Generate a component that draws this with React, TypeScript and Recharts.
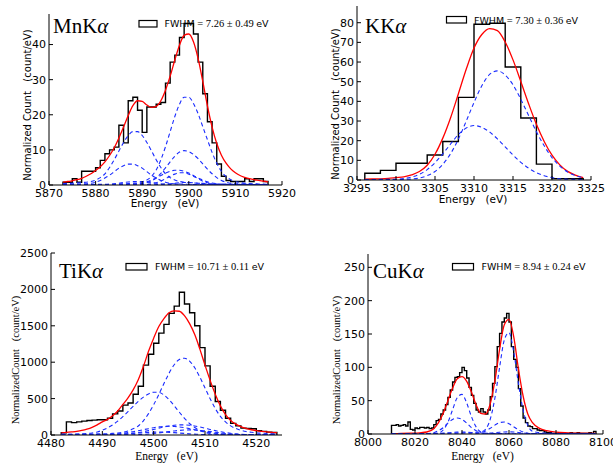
import { ComposedChart, Line, XAxis, YAxis } from 'recharts'

type Pt = { x: number; y: number }

function span(a: number, b: number, step: number): number[] {
  const out: number[] = []
  for (let v = a; v <= b + 1e-9; v += step) out.push(v)
  return out
}

// ---------- Mn Kα ----------
const mnGrid = span(5873, 5917, 1)
const mnHist = [0.8, 0.8, 1.8, 0.8, 3.9, 3.9, 3.9, 4.9, 7, 8.9,
  10, 10.8, 17, 12, 24, 25, 21.3, 15, 22.2, 22.2,
  23, 23.5, 29, 35, 37, 42, 46, 46, 43, 35,
  26, 18, 12, 6, 2.5, 1.3, 1, 1, 1, 1.8,
  1, 1.8, 1.8, 1]
const mnFit = [0.8, 1.0, 1.2, 1.5, 1.9, 2.5, 3.2, 4.1, 5.2, 6.6,
  8.4, 10.6, 13.4, 16.5, 19.8, 22.6, 24.0, 23.8, 22.8, 22.1,
  22.4, 24.0, 27.0, 31.0, 35.6, 39.8, 42.6, 43.0, 40.8, 36.0,
  29.5, 22.5, 16.5, 11.8, 8.5, 6.2, 4.6, 3.5, 2.7, 2.2,
  1.8, 1.5, 1.3, 1.1, 0.9]
const mnK1 = [0.1, 0.1, 0.1, 0.1, 0.1, 0.1, 0.15, 0.15, 0.2, 0.2,
  0.2, 0.25, 0.3, 0.35, 0.4, 0.5, 0.6, 0.9, 1.4, 2.5,
  4.3, 7.2, 10.9, 15.2, 19.5, 23.0, 25.0, 25.0, 23.2, 20.3,
  16.6, 12.9, 9.3, 6.2, 3.9, 2.4, 1.5, 1.0, 0.7, 0.5,
  0.4, 0.35, 0.3, 0.25, 0.2]
const mnK2 = [0.4, 0.45, 0.5, 0.6, 0.7, 0.8, 1.0, 1.4, 2.1, 3.2,
  5.0, 7.2, 9.7, 12.1, 14.1, 15.2, 15.2, 14.1, 12.1, 9.7,
  7.2, 5.0, 3.2, 2.1, 1.4, 1.0, 0.8, 0.7, 0.6, 0.5,
  0.45, 0.4, 0.35, 0.3, 0.3, 0.25, 0.25, 0.2, 0.2, 0.2,
  0.15, 0.15, 0.15, 0.1, 0.1]
const mnK3 = [0.1, 0.1, 0.1, 0.1, 0.1, 0.1, 0.1, 0.1, 0.1, 0.1,
  0.1, 0.1, 0.1, 0.1, 0.2, 0.25, 0.35, 0.45, 0.7, 1.2,
  2.0, 3.3, 4.9, 6.6, 8.2, 9.4, 9.8, 9.5, 8.7, 7.5,
  6.0, 4.5, 3.2, 2.1, 1.3, 0.8, 0.5, 0.35, 0.3, 0.25,
  0.2, 0.2, 0.15, 0.15, 0.1]
const mnK4 = [0.1, 0.15, 0.2, 0.25, 0.3, 0.35, 0.5, 0.8, 1.3, 2.0,
  2.8, 3.8, 4.8, 5.5, 5.95, 5.95, 5.5, 4.8, 3.8, 2.8,
  2.0, 1.3, 0.8, 0.5, 0.35, 0.3, 0.25, 0.2, 0.15, 0.15,
  0.15, 0.1, 0.1, 0.1, 0.1, 0.1, 0.1, 0.1, 0.1, 0.1,
  0.1, 0.1, 0.1, 0.1, 0.1]
const mnK5 = [0.1, 0.1, 0.1, 0.1, 0.1, 0.1, 0.1, 0.1, 0.1, 0.1,
  0.1, 0.1, 0.1, 0.1, 0.1, 0.2, 0.35, 0.55, 0.9, 1.4,
  2.0, 2.7, 3.4, 3.9, 4.2, 4.2, 3.9, 3.4, 2.7, 2.0,
  1.4, 0.9, 0.55, 0.35, 0.25, 0.2, 0.15, 0.15, 0.1, 0.1,
  0.1, 0.1, 0.1, 0.1, 0.1]
const mnK6 = [0.05, 0.05, 0.05, 0.05, 0.05, 0.05, 0.05, 0.05, 0.05, 0.05,
  0.05, 0.05, 0.05, 0.05, 0.05, 0.05, 0.05, 0.05, 0.15, 0.35,
  0.65, 1.1, 1.8, 2.5, 3.1, 3.5, 3.5, 3.1, 2.5, 1.8,
  1.1, 0.65, 0.35, 0.2, 0.1, 0.1, 0.1, 0.1, 0.1, 0.1,
  0.1, 0.1, 0.1, 0.1, 0.1]
const mnK7 = [0.05, 0.05, 0.05, 0.05, 0.05, 0.05, 0.05, 0.05, 0.08, 0.14,
  0.23, 0.36, 0.52, 0.69, 0.85, 0.96, 1.0, 0.96, 0.85, 0.69,
  0.52, 0.36, 0.23, 0.14, 0.08, 0.05, 0.05, 0.05, 0.05, 0.05,
  0.05, 0.05, 0.05, 0.05, 0.05, 0.05, 0.05, 0.05, 0.05, 0.05,
  0.05, 0.05, 0.05, 0.05, 0.05]
const mnK8 = [0.05, 0.05, 0.05, 0.05, 0.05, 0.05, 0.05, 0.05, 0.05, 0.05,
  0.05, 0.05, 0.05, 0.05, 0.05, 0.05, 0.05, 0.05, 0.05, 0.05,
  0.1, 0.15, 0.25, 0.37, 0.5, 0.63, 0.7, 0.7, 0.63, 0.5,
  0.37, 0.25, 0.15, 0.1, 0.05, 0.05, 0.05, 0.05, 0.05, 0.05,
  0.05, 0.05, 0.05, 0.05, 0.05]

// ---------- K Kα ----------
const kGrid = span(3296, 3324, 1)
const kEdges = span(3296, 3324, 2)
const kHist = [3.4, 4.9, 8.5, 8.5, 12.7, 19.6, 42, 79.2, 79.7, 57.5, 31.5, 8.1, 0.7, 0.7]
const kFit = [0.4, 0.5, 0.6, 0.8, 1.2, 1.6, 2.6, 4.3, 7.5, 13.1,
  21.3, 31.7, 43.9, 56.3, 67.1, 74.0, 77.0, 76.0, 70.2, 61.1,
  50.1, 38.8, 28.3, 19.6, 12.6, 7.7, 4.4, 2.5, 1.2]
const kA = [0.1, 0.1, 0.1, 0.2, 0.2, 0.3, 0.5, 1.0, 2.2, 4.3,
  8.0, 13.4, 20.8, 29.9, 39.4, 47.9, 53.7, 55.5, 53.4, 48.4,
  41.1, 32.8, 24.6, 17.4, 11.4, 7.1, 4.1, 2.3, 1.2]
const kB = [0.2, 0.2, 0.3, 0.3, 0.4, 0.7, 1.5, 2.9, 5.3, 8.8,
  13.3, 18.3, 23.1, 26.4, 27.7, 26.8, 24.4, 20.9, 16.8, 12.7,
  9.0, 6.0, 3.7, 2.2, 1.2, 0.6, 0.4, 0.3, 0.2]

// ---------- Ti Kα ----------
const tiGrid = span(4482, 4524, 1)
const tiHist = [30, 180, 170, 180, 190, 200, 205, 210, 210, 230,
  290, 330, 410, 440, 560, 670, 960, 1110, 1260, 1400,
  1520, 1670, 1770, 1960, 1800, 1680, 1500, 1200, 950, 670,
  460, 340, 230, 160, 125, 95, 90, 85, 60, 50,
  40, 35]
const tiFit = [30, 35, 42, 50, 62, 80, 105, 140, 180, 215,
  265, 330, 420, 510, 620, 760, 940, 1150, 1330, 1490,
  1600, 1680, 1705, 1700, 1640, 1530, 1380, 1180, 960, 750,
  560, 400, 280, 200, 150, 115, 90, 72, 60, 50,
  42, 36, 32]
const tiC1 = [8, 9, 10, 11, 12, 13, 14, 15, 16, 18,
  22, 28, 38, 55, 85, 123, 195, 293, 415, 557,
  707, 849, 965, 1037, 1055, 1015, 923, 795, 647, 498,
  363, 255, 180, 125, 90, 65, 48, 38, 30, 25,
  21, 18, 16]
const tiC2 = [8, 9, 10, 12, 15, 20, 28, 42, 65, 97,
  139, 191, 253, 322, 393, 462, 521, 564, 587, 585,
  550, 485, 402, 313, 229, 158, 102, 62, 35, 20,
  12, 8, 6, 5, 5, 4, 4, 4, 3, 3,
  3, 3, 3]
const tiC3 = [3, 3, 3, 3, 3, 4, 4, 4, 5, 5,
  6, 8, 10, 15, 23, 33, 45, 60, 76, 94,
  110, 124, 134, 139, 139, 134, 124, 110, 94, 76,
  60, 45, 33, 23, 15, 10, 7, 5, 4, 4,
  3, 3, 3]
const tiC4 = [3, 3, 3, 3, 3, 4, 4, 5, 6, 8,
  11, 16, 24, 33, 45, 58, 73, 87, 100, 111,
  118, 120, 118, 111, 100, 87, 73, 58, 45, 33,
  24, 16, 11, 8, 6, 5, 4, 4, 3, 3,
  3, 3, 3]
const tiC5 = [2, 2, 2, 2, 2, 2, 2, 2, 2, 2,
  2, 3, 3, 3, 4, 6, 9, 14, 21, 29,
  38, 47, 56, 63, 68, 70, 68, 63, 56, 47,
  38, 29, 21, 14, 9, 6, 4, 3, 3, 2,
  2, 2, 2]
const tiC6 = [2, 2, 2, 2, 2, 2, 2, 3, 4, 5,
  5, 8, 12, 16, 22, 27, 32, 36, 39, 40,
  39, 36, 32, 27, 22, 16, 12, 8, 5, 3,
  2, 2, 2, 2, 2, 2, 2, 2, 2, 2,
  2, 2, 2]

// ---------- Cu Kα ----------
const cuEdges = span(8010, 8097, 1)
const cuHist = [13, 13, 14, 12, 13, 14, 12, 18, 7, 6,
  9, 8, 10, 10, 9, 10, 8, 9, 14, 20,
  22, 30, 36, 44, 55, 66, 78, 85, 86, 92,
  100, 95, 84, 70, 58, 46, 36, 33, 38, 33,
  30, 36, 56, 76, 101, 131, 151, 168, 174, 181,
  168, 131, 112, 100, 68, 42, 24, 17, 12, 11,
  8, 8, 6, 5, 5, 3, 2, 2, 1, 1,
  1, 2, 1, 1, 1, 1, 2, 1, 1, 2,
  1, 1, 1, 1, 2, 1, 4]
const cuGrid = [8010, 8014, 8018, 8022, 8025, 8028, 8030, 8032, 8034, 8036,
  8038, 8040, 8042, 8044, 8046, 8048, 8050, 8052, 8054, 8056,
  8058, 8060, 8062, 8064, 8066, 8068, 8070, 8073, 8076, 8080,
  8085, 8090, 8097]
const cuFit = [0.5, 0.8, 1.2, 1.8, 3, 8, 17, 31, 50, 69,
  83, 86, 79, 63, 44, 31, 30, 45, 80, 127,
  164, 172, 146, 98, 57, 30, 17, 8.5, 5, 2.7,
  1.7, 1.2, 0.8]
const cuC1 = [0.3, 0.3, 0.4, 0.5, 0.6, 0.7, 0.8, 0.9, 1.0, 1.2,
  1.4, 1.6, 1.9, 2.2, 2.6, 3.2, 7, 22, 54, 100,
  141, 152, 123, 76, 36, 13, 4, 2, 1.2, 0.8,
  0.6, 0.4, 0.3]
const cuC2 = [0.2, 0.3, 0.4, 0.5, 0.7, 1.0, 1.5, 6, 17.5, 36.4,
  54.7, 59.4, 46.5, 26.2, 10.7, 3.1, 1.2, 0.8, 0.6, 0.5,
  0.5, 0.4, 0.4, 0.3, 0.3, 0.3, 0.2, 0.2, 0.2, 0.1,
  0.1, 0.1, 0.1]
const cuC3 = [0.1, 0.1, 0.1, 0.2, 0.5, 2.0, 5, 9.5, 16.4, 21.8,
  24, 21.8, 16.4, 9.5, 4.9, 2.0, 0.7, 0.3, 0.2, 0.1,
  0.1, 0.1, 0.1, 0.1, 0.1, 0.1, 0.1, 0.1, 0.1, 0.1,
  0.1, 0.1, 0.1]
const cuC4 = [0.1, 0.1, 0.1, 0.1, 0.1, 0.1, 0.1, 0.1, 0.1, 0.1,
  0.1, 0.1, 0.1, 0.2, 0.7, 1.9, 4.5, 8.5, 13.3, 17.0,
  17.9, 15.4, 10.9, 6.4, 3.0, 1.2, 0.4, 0.2, 0.1, 0.1,
  0.1, 0.1, 0.1]
const cuC5 = [0.1, 0.1, 0.1, 0.1, 0.2, 0.4, 0.7, 1.2, 1.8, 2.4,
  2.8, 3.0, 2.8, 2.3, 1.7, 1.3, 1.2, 1.5, 2.1, 2.7,
  3.1, 3.2, 2.9, 2.3, 1.6, 1.0, 0.6, 0.3, 0.2, 0.1,
  0.1, 0.1, 0.1]

function curve(xs: number[], ys: number[]): Pt[] {
  const n = Math.min(xs.length, ys.length)
  return ys.slice(0, n).map((y, i) => ({ x: xs[i], y }))
}

// step outline like matplotlib histtype='step'
function stepHist(edges: number[], counts: number[]): Pt[] {
  const last = edges[counts.length]
  const pts: Pt[] = [{ x: edges[0], y: 0 }]
  counts.forEach((c, i) => pts.push({ x: edges[i], y: c }))
  pts.push({ x: last, y: counts[counts.length - 1] })
  pts.push({ x: last, y: 0 })
  return pts
}

interface PanelProps {
  box: [number, number, number, number]
  xDomain: [number, number]
  xTicks: number[]
  yDomain: [number, number]
  yTicks: number[]
  hist: Pt[]
  fit: Pt[]
  parts: Pt[][]
}

const tickFont = { fill: '#000', fontSize: 11, fontFamily: 'DejaVu Sans, sans-serif' }

function Panel({ box, xDomain, xTicks, yDomain, yTicks, hist, fit, parts }: PanelProps) {
  const [left, top, w, h] = box
  const padL = 46
  const padT = 6
  const padR = 22
  const padB = 30
  return (
    <div style={{ position: 'absolute', left: left - padL, top: top - padT }}>
      <ComposedChart
        width={w + padL + padR}
        height={h + padT + padB}
        margin={{ top: padT, right: padR, bottom: 0, left: padL - 40 }}
      >
        <XAxis xAxisId="b" type="number" dataKey="x" domain={xDomain} ticks={xTicks} interval={0}
          allowDataOverflow height={padB} tickSize={-4} tickMargin={8} stroke="#000" tick={tickFont} />
        <XAxis xAxisId="t" orientation="top" type="number" dataKey="x" domain={xDomain} ticks={xTicks}
          interval={0} allowDataOverflow height={0} tickSize={-4} tick={false} stroke="#000" />
        <YAxis yAxisId="l" type="number" domain={yDomain} ticks={yTicks} interval={0} allowDataOverflow
          width={40} tickSize={-4} tickMargin={7} stroke="#000" tick={tickFont} />
        <YAxis yAxisId="r" orientation="right" type="number" domain={yDomain} ticks={yTicks} interval={0}
          allowDataOverflow width={0} tickSize={-4} tick={false} stroke="#000" />

        <Line xAxisId="b" yAxisId="l" data={hist} dataKey="y" type="stepAfter" stroke="#000"
          strokeWidth={1.4} dot={false} activeDot={false} isAnimationActive={false} />
        <Line xAxisId="b" yAxisId="l" data={fit} dataKey="y" type="monotone" stroke="#ff0000"
          strokeWidth={1.3} dot={false} activeDot={false} isAnimationActive={false} />
        {parts.map((p, i) => (
          <Line key={i} xAxisId="b" yAxisId="l" data={p} dataKey="y" type="monotone" stroke="#1a2cff"
            strokeWidth={1.1} strokeDasharray="4 3" dot={false} activeDot={false} isAnimationActive={false} />
        ))}
      </ComposedChart>
    </div>
  )
}

const sans = 'DejaVu Sans, sans-serif'
const serif = 'Liberation Serif, DejaVu Serif, serif'

function Legend({ rx, ry, rw, tx, ty, value }: { rx: number; ry: number; rw: number; tx: number; ty: number; value: string }) {
  return (
    <g>
      <rect x={rx} y={ry} width={rw} height={6.5} fill="none" stroke="#000" strokeWidth={1.2} />
      <text x={tx} y={ty} fill="#000">
        <tspan fontFamily={sans} fontSize={9.5}>FWHM</tspan>
        <tspan fontFamily={serif} fontSize={10.5}>{` = ${value} `}</tspan>
        <tspan fontFamily={sans} fontSize={9.5}>eV</tspan>
      </text>
    </g>
  )
}

function Title({ x, y, name }: { x: number; y: number; name: string }) {
  return (
    <text x={x} y={y} fontFamily={serif} fontSize={21} fill="#000">
      {name}K<tspan fontStyle="italic">α</tspan>
    </text>
  )
}

export default function App() {
  return (
    <div style={{ position: 'absolute', left: 0, top: 0, width: 613, height: 463, background: '#fff', overflow: 'hidden' }}>
      <Panel
        box={[49, 14, 233, 171]}
        xDomain={[5870, 5920]}
        xTicks={[5870, 5880, 5890, 5900, 5910, 5920]}
        yDomain={[0, 48.7]}
        yTicks={[0, 10, 20, 30, 40]}
        hist={stepHist(mnGrid, mnHist)}
        fit={curve(mnGrid, mnFit)}
        parts={[mnK1, mnK2, mnK3, mnK4, mnK5, mnK6, mnK7, mnK8].map((v) => curve(mnGrid, v))}
      />
      <Panel
        box={[357, 6, 234, 174]}
        xDomain={[3295, 3325]}
        xTicks={[3295, 3300, 3305, 3310, 3315, 3320, 3325]}
        yDomain={[0, 88.5]}
        yTicks={[0, 10, 20, 30, 40, 50, 60, 70, 80]}
        hist={stepHist(kEdges, kHist)}
        fit={curve(kGrid, kFit)}
        parts={[kA, kB].map((v) => curve(kGrid, v))}
      />
      <Panel
        box={[51, 253, 231, 182]}
        xDomain={[4480, 4525]}
        xTicks={[4480, 4490, 4500, 4510, 4520]}
        yDomain={[0, 2500]}
        yTicks={[0, 500, 1000, 1500, 2000, 2500]}
        hist={stepHist(tiGrid, tiHist)}
        fit={curve(tiGrid, tiFit)}
        parts={[tiC1, tiC2, tiC3, tiC4, tiC5, tiC6].map((v) => curve(tiGrid, v))}
      />
      <Panel
        box={[368, 254, 235, 180]}
        xDomain={[8000, 8100]}
        xTicks={[8000, 8020, 8040, 8060, 8080, 8100]}
        yDomain={[0, 270]}
        yTicks={[0, 50, 100, 150, 200, 250]}
        hist={stepHist(cuEdges, cuHist)}
        fit={curve(cuGrid, cuFit)}
        parts={[cuC1, cuC2, cuC3, cuC4, cuC5].map((v) => curve(cuGrid, v))}
      />

      <svg width={613} height={463} style={{ position: 'absolute', left: 0, top: 0, pointerEvents: 'none' }}>
        <Title x={53} y={33} name="Mn" />
        <Title x={365} y={33} name="K" />
        <Title x={59} y={278} name="Ti" />
        <Title x={373} y={278} name="Cu" />

        <Legend rx={139} ry={20.5} rw={18} tx={164.5} ty={27} value="7.26 ± 0.49" />
        <Legend rx={446.5} ry={16.5} rw={20} tx={474} ty={23.5} value="7.30 ± 0.36" />
        <Legend rx={126} ry={263.5} rw={21} tx={155} ty={270} value="10.71 ± 0.11" />
        <Legend rx={452.5} ry={263.5} rw={21} tx={481.5} ty={270} value="8.94 ± 0.24" />

        <text transform="translate(31,105) rotate(-90)" textAnchor="middle" fontFamily={sans} fontSize={10} fill="#000">
          Normalized Count{'\u00a0\u00a0\u00a0'}(count/eV)
        </text>
        <text transform="translate(338.5,104) rotate(-90)" textAnchor="middle" fontFamily={sans} fontSize={10} fill="#000">
          Normalized Count{'\u00a0\u00a0\u00a0'}(count/eV)
        </text>
        <text transform="translate(18.5,360) rotate(-90)" textAnchor="middle" fontFamily={serif} fontSize={10.5} fill="#000">
          NormalizedCount{'\u00a0\u00a0\u00a0'}(count/eV)
        </text>
        <text transform="translate(340,360) rotate(-90)" textAnchor="middle" fontFamily={serif} fontSize={10.5} fill="#000">
          NormalizedCount{'\u00a0\u00a0\u00a0'}(count/eV)
        </text>

        <text x={165} y={207} textAnchor="middle" fontFamily={sans} fontSize={10.5} fill="#000">
          Energy{'\u00a0\u00a0\u00a0'}(eV)
        </text>
        <text x={473} y={203} textAnchor="middle" fontFamily={sans} fontSize={10.5} fill="#000">
          Energy{'\u00a0\u00a0\u00a0'}(eV)
        </text>
        <text x={166.5} y={460} textAnchor="middle" fontFamily={serif} fontSize={11.5} fill="#000">
          Energy{'\u00a0\u00a0\u00a0'}(eV)
        </text>
        <text x={482.5} y={460} textAnchor="middle" fontFamily={serif} fontSize={11.5} fill="#000">
          Energy{'\u00a0\u00a0\u00a0'}(eV)
        </text>
      </svg>
    </div>
  )
}
